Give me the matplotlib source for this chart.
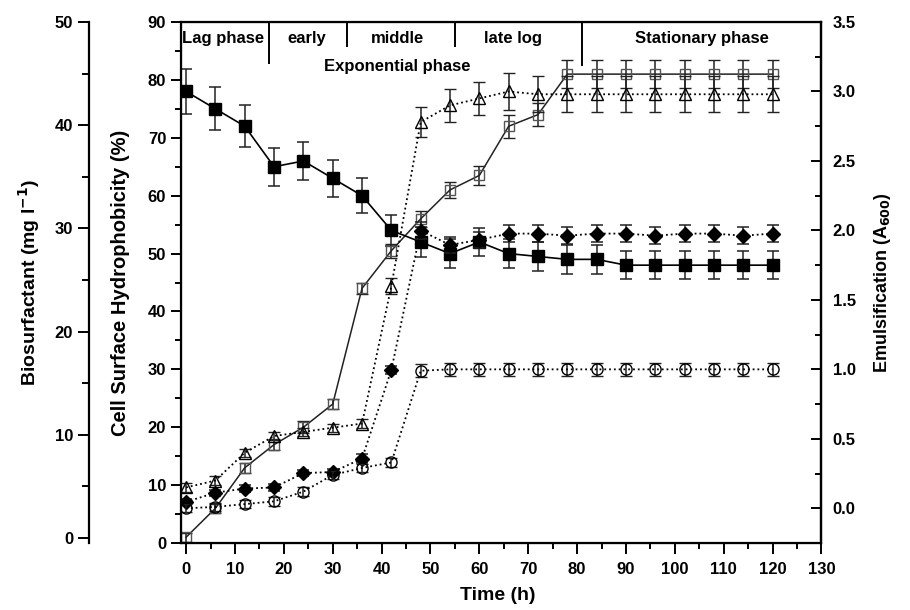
import numpy as np
import matplotlib
matplotlib.use('Agg')
import matplotlib.pyplot as plt
from matplotlib.ticker import MultipleLocator

plt.rcParams['font.family'] = ['Liberation Sans', 'DejaVu Sans']
plt.rcParams['font.weight'] = 'bold'
plt.rcParams['axes.labelweight'] = 'bold'

# sampling times (h)
time_h = [0, 6, 12, 18, 24, 30, 36, 42, 48, 54, 60, 66, 72, 78, 84, 90, 96, 102, 108, 114, 120]

# cell surface hydrophobicity (%), filled squares
hydro = [78, 75, 72, 65, 66, 63, 60, 54, 52, 50, 52, 50, 49.5, 49, 49, 48, 48, 48, 48, 48, 48]
hydro_err = [3.9, 3.7, 3.6, 3.3, 3.3, 3.2, 3.0, 2.7, 2.6, 2.5, 2.5, 2.5, 2.5, 2.5, 2.5, 2.4, 2.4, 2.4, 2.4, 2.4, 2.4]

# second hydrophobicity-scale series, open squares
open_sq = [1, 6, 13, 17, 20, 24, 44, 50.5, 56, 61, 63.5, 72, 74, 81, 81, 81, 81, 81, 81, 81, 81]
open_sq_err = [0.8, 0.8, 0.9, 1.0, 1.0, 0.8, 0.9, 1.2, 1.4, 1.4, 1.6, 2.0, 2.0, 2.4, 2.4, 2.4, 2.4, 2.4, 2.4, 2.4, 2.4]

# biosurfactant (mg/l), filled diamonds
bios = [3.5, 4.4, 4.8, 4.9, 6.3, 6.4, 7.7, 16.3, 29.8, 28.4, 28.9, 29.5, 29.5, 29.3, 29.5, 29.5, 29.3, 29.5, 29.5, 29.3, 29.5]
bios_err = [0.3, 0.3, 0.3, 0.3, 0.3, 0.3, 0.4, 0.4, 0.8, 0.8, 0.8, 0.8, 0.8, 0.8, 0.8, 0.8, 0.8, 0.8, 0.8, 0.8, 0.8]

# emulsification (A600), open triangles
emul_tri = [0.15, 0.2, 0.4, 0.52, 0.55, 0.58, 0.61, 1.6, 2.78, 2.9, 2.95, 3.0, 2.98, 2.98, 2.98, 2.98, 2.98, 2.98, 2.98, 2.98, 2.98]
emul_tri_err = [0.03, 0.03, 0.03, 0.03, 0.03, 0.03, 0.03, 0.06, 0.11, 0.12, 0.12, 0.13, 0.13, 0.13, 0.13, 0.13, 0.13, 0.13, 0.13, 0.13, 0.13]

# emulsification (A600), open circles
emul_circ = [0.0, 0.01, 0.03, 0.05, 0.12, 0.24, 0.29, 0.33, 0.99, 1.0, 1.0, 1.0, 1.0, 1.0, 1.0, 1.0, 1.0, 1.0, 1.0, 1.0, 1.0]
emul_circ_err = [0.03, 0.03, 0.03, 0.03, 0.03, 0.03, 0.03, 0.03, 0.045, 0.045, 0.045, 0.045, 0.045, 0.045, 0.045, 0.045, 0.045, 0.045, 0.045, 0.045, 0.045]

# growth phase labels
phase_names = ['Lag phase', 'early', 'middle', 'late log', 'Stationary phase']
phase_mid = [7.6, 24.6, 43.2, 66.8, 105.5]
phase_bounds = [17, 33, 55, 81]
bound_len = [7.2, 4.4, 4.4, 7.6]

fig = plt.figure(figsize=(9.1, 6.1), dpi=100)
ax = fig.add_axes([0.1986, 0.1098, 0.7041, 0.8541])
ax_bio = ax.twinx()
ax_em = ax.twinx()

lw_sp = 1.6
for sp in ax.spines.values():
  sp.set_linewidth(lw_sp)

# outer left axis for biosurfactant
ax_bio.yaxis.set_ticks_position('left')
ax_bio.yaxis.set_label_position('left')
ax_bio.spines['left'].set_position(('axes', -0.143))
for s in ['right', 'top', 'bottom']:
  ax_bio.spines[s].set_visible(False)
ax_bio.spines['left'].set_linewidth(lw_sp)
ax_em.spines['right'].set_linewidth(lw_sp)

ebkw = dict(capsize=4.3, elinewidth=1.1, capthick=1.1, ecolor='#222222')

ax.errorbar(time_h, open_sq, yerr=open_sq_err, fmt='s-', color='#222222', mfc='none',
            mec='#555555', ms=7, mew=1.0, lw=1.1, **ebkw)
ax.errorbar(time_h, hydro, yerr=hydro_err, fmt='s-', color='black', ms=8, lw=1.2, **ebkw)
ax_bio.errorbar(time_h, bios, yerr=bios_err, fmt='D', ls=':', color='black', ms=7.5, lw=1.3, **ebkw)
ax_em.errorbar(time_h, emul_tri, yerr=emul_tri_err, fmt='^', ls=':', color='black', mfc='none',
               ms=9, mew=1.0, lw=1.3, **ebkw)
ax_em.errorbar(time_h, emul_circ, yerr=emul_circ_err, fmt='o', ls=':', color='black', mfc='none',
               ms=8, mew=1.0, lw=1.3, **ebkw)

ax.set_xlim(-1.1, 130)
ax.set_ylim(0, 90)
ax_bio.set_ylim(-0.48, 50)
ax_em.set_ylim(-0.25, 3.5)

ax.xaxis.set_major_locator(MultipleLocator(10))
ax.xaxis.set_minor_locator(MultipleLocator(5))
ax.yaxis.set_major_locator(MultipleLocator(10))
ax.yaxis.set_minor_locator(MultipleLocator(5))
ax_bio.yaxis.set_major_locator(MultipleLocator(10))
ax_bio.yaxis.set_minor_locator(MultipleLocator(5))
ax_em.yaxis.set_major_locator(MultipleLocator(0.5))
ax_em.yaxis.set_minor_locator(MultipleLocator(0.25))
ax_em.yaxis.set_major_formatter(plt.FormatStrFormatter('%.1f'))

ax.tick_params(axis='x', which='major', direction='out', length=8, width=1.4, labelsize=12, pad=6)
ax.tick_params(axis='x', which='minor', direction='out', length=4.5, width=1.4)
ax.tick_params(axis='y', which='major', direction='out', length=7, width=1.4, labelsize=12)
ax.tick_params(axis='y', which='minor', direction='out', length=4, width=1.4)
ax.tick_params(top=False, right=False, which='both')
ax_bio.tick_params(axis='y', which='major', direction='out', length=8, width=1.4, labelsize=12)
ax_bio.tick_params(axis='y', which='minor', direction='out', length=5, width=1.4)
ax_em.tick_params(axis='y', which='major', direction='in', length=7, width=1.4, labelsize=12, pad=8)
ax_em.tick_params(axis='y', which='minor', direction='in', length=4, width=1.4)
for a in (ax, ax_bio, ax_em):
  for lab in a.get_xticklabels() + a.get_yticklabels():
    lab.set_fontweight('bold')

ax.set_xlabel('Time (h)', fontsize=14)
ax.xaxis.set_label_coords(0.495, -0.085)
ax.set_ylabel('Cell Surface Hydrophobicity (%)', fontsize=14.5, labelpad=13)
ax_bio.set_ylabel('Biosurfactant (mg l$^{\\mathbf{-1}}$)', fontsize=14, labelpad=9)
ax_em.set_ylabel('Emulsification (A$_{\\mathbf{600}}$)', fontsize=13, labelpad=12)

# phase boundaries and labels
for xb, ln in zip(phase_bounds, bound_len):
  ax.plot([xb, xb], [90, 90 - ln], color='black', lw=1.4, solid_capstyle='butt')
for name, xm in zip(phase_names, phase_mid):
  ax.text(xm, 87.2, name, ha='center', va='center', fontsize=12, fontweight='bold')
ax.text(43.2, 82.4, 'Exponential phase', ha='center', va='center', fontsize=12, fontweight='bold')

fig.savefig('out.png', dpi=100, facecolor='white')
